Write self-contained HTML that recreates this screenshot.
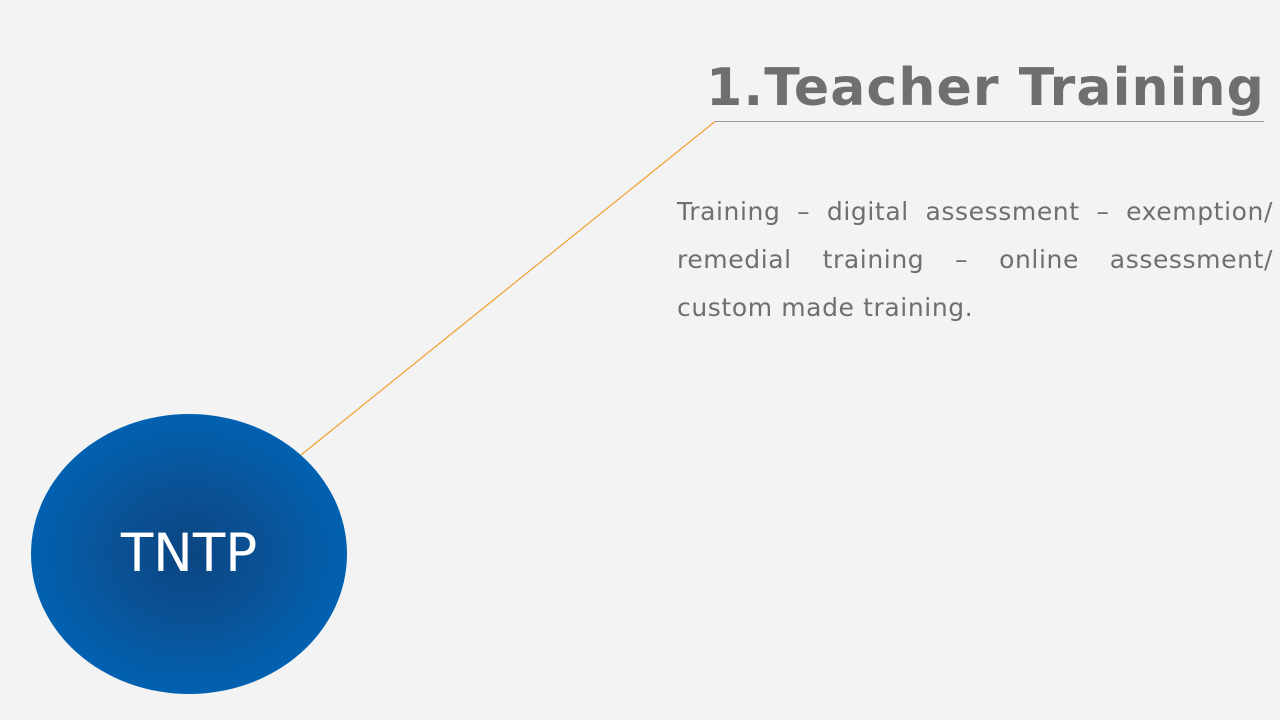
<!DOCTYPE html>
<html><head><meta charset="utf-8"><style>
html,body{margin:0;padding:0;width:1280px;height:720px;background:#f3f3f3;overflow:hidden;position:relative;font-family:"DejaVu Sans","Liberation Sans",sans-serif;}
#title{position:absolute;right:15px;top:56px;font-size:52px;font-weight:bold;color:#6f6f6f;white-space:nowrap;line-height:64px;letter-spacing:1.1px;}
#para{position:absolute;left:677px;top:188px;width:596px;font-size:25px;line-height:48px;color:#6f6f6f;letter-spacing:0.6px;}
#para div{white-space:nowrap;text-align:justify;text-align-last:justify;}
#para div.last{text-align-last:left;}
#circ{position:absolute;left:31px;top:414px;width:316px;height:280px;border-radius:50%;background:radial-gradient(ellipse at center,#0a4582 0%,#0a5296 35%,#0063b4 75%,#0066ba 100%);}
#tntp{position:absolute;left:31px;top:414px;width:316px;height:280px;line-height:280px;text-align:center;color:#fff;font-size:53px;}
</style></head><body>
<svg width="1280" height="720" style="position:absolute;left:0;top:0">
<line x1="715" y1="121.5" x2="1264" y2="121.5" stroke="#9a9a9a" stroke-width="1"/>
<line x1="715" y1="121.5" x2="301" y2="455" stroke="#f0a030" stroke-width="1.2"/>
</svg>
<div id="title">1.Teacher Training</div>
<div id="para">
<div>Training – digital assessment – exemption/</div>
<div>remedial training – online assessment/</div>
<div class="last">custom made training.</div>
</div>
<div id="circ"></div>
<div id="tntp">TNTP</div>
</body></html>
